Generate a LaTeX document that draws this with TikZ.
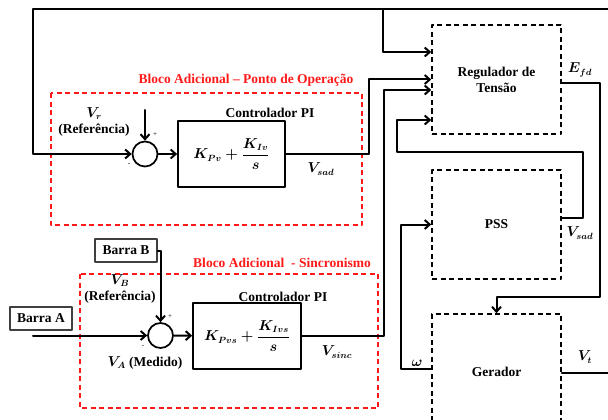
\documentclass[tikz,border=0pt]{standalone}
\usepackage{amsmath}
\usepackage{fontspec}
\setmainfont{Liberation Serif}
\usetikzlibrary{arrows.meta}

\begin{document}
\begin{tikzpicture}[line cap=round,line join=round,>={Straight Barb[length=5pt,width=9pt]},x=1pt,y=-1pt,
	font=\fontsize{13.5}{16}\selectfont\bfseries\boldmath,
	wire/.style={line width=2pt},
	bloco/.style={draw,line width=1.7pt,minimum width=107pt,minimum height=66pt,inner sep=0pt},
	tracejado/.style={draw,line cap=butt,line width=1.6pt,dash pattern=on 5pt off 3.5pt,minimum width=129pt,minimum height=109pt,align=center},
	somador/.style={draw,circle,line width=1.7pt,minimum size=25pt,inner sep=0pt},
	barra/.style={draw=black!75,line width=1.3pt,minimum width=62pt,minimum height=23pt,inner sep=0pt},
	contorno/.style={draw=red!90,line cap=butt,line width=1.6pt,dash pattern=on 5pt off 3.5pt},
	titulo/.style={text=red!90},
	sinal/.style={font=\fontsize{7}{8}\selectfont}]
			\clip (0,0) rectangle (608,420);
			\draw[contorno] (51,93) rectangle (362,225);
			\draw[contorno] (80,274) rectangle (378,408);
			\node[tracejado] (reg) at (496.5,79.5) {Regulador de\\Tensão};
			\node[tracejado] (pss) at (496.5,224.5) {PSS};
			\node[tracejado,minimum height=116pt] (ger) at (496.5,372) {Gerador};
			\node[somador] (s1) at (145,154) {};
			\node[bloco] (pi1) at (231.5,154) {$K_{Pv}+\dfrac{K_{Iv}}{s}$};
			\node[somador] (s2) at (160.5,335.5) {};
			\node[bloco,minimum width=108pt] (pi2) at (247,336) {$K_{Pvs}+\dfrac{K_{Ivs}}{s}$};
			\node[barra] (bB) at (126,250.5) {Barra B};
			\node[barra] (bA) at (41,318.5) {Barra A};
			\coordinate (topR) at (608,9);
			\coordinate (topL) at (33,9);
			\coordinate (ramo) at (383,9);
			\coordinate (vr) at (145,110);
			\coordinate (va) at (33,335.5);
			\coordinate (vt) at (608,373);
			\draw[wire,->] (topR) -- (topL) |- (s1);
			\draw[wire,->] (ramo) |- ([yshift=27.5pt]reg.west);
			\draw[wire,->] (vr) -- (s1);
			\draw[wire,->] (s1) -- (pi1);
			\draw[wire,->] (pi1.east) -- ++(83,0) |- (reg.west);
			\draw[wire,->] (bB.east) -| (s2);
			\draw[wire,->] (va) -- (s2);
			\draw[wire,->] (s2) -- (pi2);
			\draw[wire,->] (pi2.east) -- ++(82,0) |- ([yshift=-10.5pt]reg.west);
			\draw[wire,->] ([yshift=-3.5pt]reg.east) -- ++(38,0) -- ++(0,214) -| (ger.north);
			\draw[wire,->] ([yshift=6.5pt]pss.east) -- ++(21,0) -- ++(0,-66) -- ++(-186,0) |- ([yshift=-40.5pt]reg.west);
			\draw[wire,->] ([yshift=3pt]ger.west) -- ++(-30,0) |- (pss.west);
			\draw[wire] ([yshift=-1pt]ger.east) -- (vt);
			\node[align=center] (lvr) at (94,122) {$V_r$\\(Referência)};
			\node[sinal] (p1) at (155,135) {+};
			\node[sinal] (m1) at (129,165) {-};
			\node (lc1) at (270,113) {Controlador PI};
			\node (lsad) at (321,169) {$V_{sad}$};
			\node[titulo] (t1) at (246,80) {Bloco Adicional – Ponto de Operação};
			\node[titulo] (t2) at (282,263) {Bloco Adicional\ \ - Sincronismo};
			\node[align=center] (lvb) at (120,289) {$V_B$\\(Referência)};
			\node (lva) at (145,363) {$V_A$ (Medido)};
			\node[sinal] (p2) at (170,317) {+};
			\node[sinal] (m2) at (143,347) {-};
			\node (lc2) at (283,297) {Controlador PI};
			\node (lsinc) at (337,352) {$V_{sinc}$};
			\node (lefd) at (580,70) {$E_{fd}$};
			\node (lsad2) at (580,233) {$V_{sad}$};
			\node (lw) at (417,363) {$\omega$};
			\node (lvt) at (585,357) {$V_t$};
\end{tikzpicture}
\end{document}
